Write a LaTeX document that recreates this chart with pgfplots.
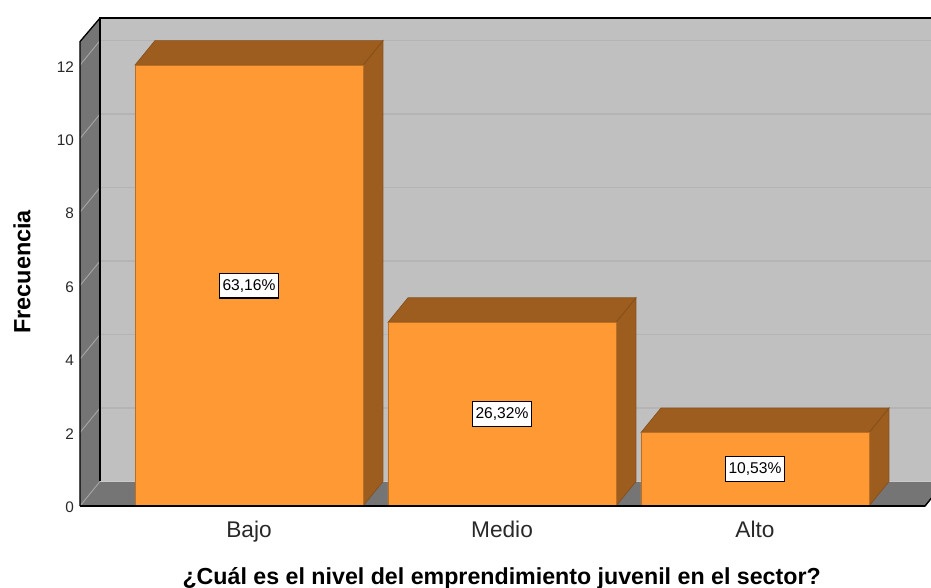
\documentclass[border=0pt]{standalone}
\usepackage{fontspec}
\setmainfont{Liberation Sans}
\usepackage{pgfplots}
\usepackage{pgfplotstable}
\pgfplotsset{compat=1.18}
\definecolor{barfront}{RGB}{255,153,51}
\definecolor{barside}{RGB}{156,93,31}
\definecolor{wall}{RGB}{192,192,192}
\definecolor{wallgrid}{RGB}{180,180,180}
\definecolor{floorgray}{RGB}{117,117,117}
\definecolor{sidegrid}{RGB}{165,165,165}
\definecolor{txt}{RGB}{40,40,40}

\pgfplotstableread{
x y
0 12
1 5
2 2
}\bars

\begin{document}
\begin{tikzpicture}
% picture frame: 1 px = 0.75pt, origin at the front lower left corner (80,506)
\path[clip,use as bounding box] (-60pt,-61.5pt) rectangle (638.25pt,379.5pt);
\begin{axis}[
  scale only axis,
  width=633.75pt, height=348.3pt,
  xmin=-0.668, xmax=2.672,
  ymin=0, ymax=12.64,
  clip=false,
  axis line style={draw=none},
  major tick length=0pt,
  xtick={0,1,2},
  xticklabels={Bajo,Medio,Alto},
  ytick={0,2,4,6,8,10,12},
  xticklabel style={font=\fontsize{17}{20}\selectfont,text=txt,yshift=-7.5pt},
  yticklabel style={font=\fontsize{11.5}{13}\selectfont,text=txt,xshift=-1pt,yshift=-1.2pt},
  /pgf/number format/assume math mode=true,
  xlabel={¿Cuál es el nivel del emprendimiento juvenil en el sector?},
  xlabel style={font=\fontsize{17.4}{20}\selectfont\bfseries,at={(axis description cs:0.499,-0.155)},anchor=center},
  ylabel={Frecuencia},
  ylabel style={font=\fontsize{17.6}{20}\selectfont\bfseries,at={(axis description cs:-0.0686,0.504)},anchor=center},
  no marks,
]
% back wall, left wall, floor
\addplot[fill=wall,draw=none] coordinates {(-0.589,0.667) (2.751,0.667) (2.751,13.28) (-0.589,13.28)} --cycle;
\addplot[fill=floorgray,draw=none] coordinates {(-0.668,0) (-0.589,0.667) (-0.589,13.28) (-0.668,12.64)} --cycle;
\addplot[fill=floorgray,draw=none] coordinates {(-0.668,0) (2.672,0) (2.751,0.667) (-0.589,0.667)} --cycle;
% grid lines
\foreach \k in {2,4,6,8,10,12} {
  \edef\tmp{\noexpand\addplot[wallgrid,line width=0.9pt] coordinates {(-0.589,\k.667) (2.751,\k.667)};
  \noexpand\addplot[sidegrid,line width=0.7pt] coordinates {(-0.668,\k) (-0.589,\k.667)};}
  \tmp
}
\addplot[sidegrid,line width=0.7pt] coordinates {(-0.668,0) (-0.589,0.667)};
\addplot[wallgrid!70!white,line width=0.7pt] coordinates {(-0.589,0.667) (2.751,0.667)};
% frame lines
\addplot[black,line width=1pt] coordinates {(-0.589,0.667) (-0.589,13.28) (2.751,13.28)};
\addplot[black,line width=1pt] coordinates {(-0.668,0) (-0.668,12.64) (-0.589,13.28)};
\addplot[black,line width=1.1pt] coordinates {(-0.668,0) (2.672,0) (2.751,0.667)};
% side and top faces
\addplot[fill=barside,draw=barside!85!black,line width=0.5pt] coordinates {(0.4506,0) (0.5296,0.667) (0.5296,12.667) (0.4506,12)} --cycle;
\addplot[fill=barside,draw=barside!85!black,line width=0.5pt] coordinates {(-0.4506,12) (-0.3716,12.667) (0.5296,12.667) (0.4506,12)} --cycle;
\addplot[fill=barside,draw=barside!85!black,line width=0.5pt] coordinates {(1.4506,0) (1.5296,0.667) (1.5296,5.667) (1.4506,5)} --cycle;
\addplot[fill=barside,draw=barside!85!black,line width=0.5pt] coordinates {(0.5494,5) (0.6284,5.667) (1.5296,5.667) (1.4506,5)} --cycle;
\addplot[fill=barside,draw=barside!85!black,line width=0.5pt] coordinates {(2.4506,0) (2.5296,0.667) (2.5296,2.667) (2.4506,2)} --cycle;
\addplot[fill=barside,draw=barside!85!black,line width=0.5pt] coordinates {(1.5494,2) (1.6284,2.667) (2.5296,2.667) (2.4506,2)} --cycle;
% front faces
\addplot[ybar,bar width=171pt,bar shift=0pt,fill=barfront,draw=barside!70!barfront,line width=0.5pt] table[x=x,y=y] {\bars};
\addplot[black,line width=1.1pt] coordinates {(-0.668,0) (2.672,0)};
% percentage labels
\foreach \xx/\yy/\lab in {0/6/63{,}16\%,1/2.5/26{,}32\%,2/1/10{,}53\%} {
  \edef\tmp{\noexpand\node[fill=white,draw=black,line width=0.8pt,inner xsep=2pt,inner ysep=4.5pt,font=\noexpand\fontsize{11.7}{13}\noexpand\selectfont] at (axis cs:\xx,\yy) {\lab};}
  \tmp
}
\end{axis}
\end{tikzpicture}
\end{document}
